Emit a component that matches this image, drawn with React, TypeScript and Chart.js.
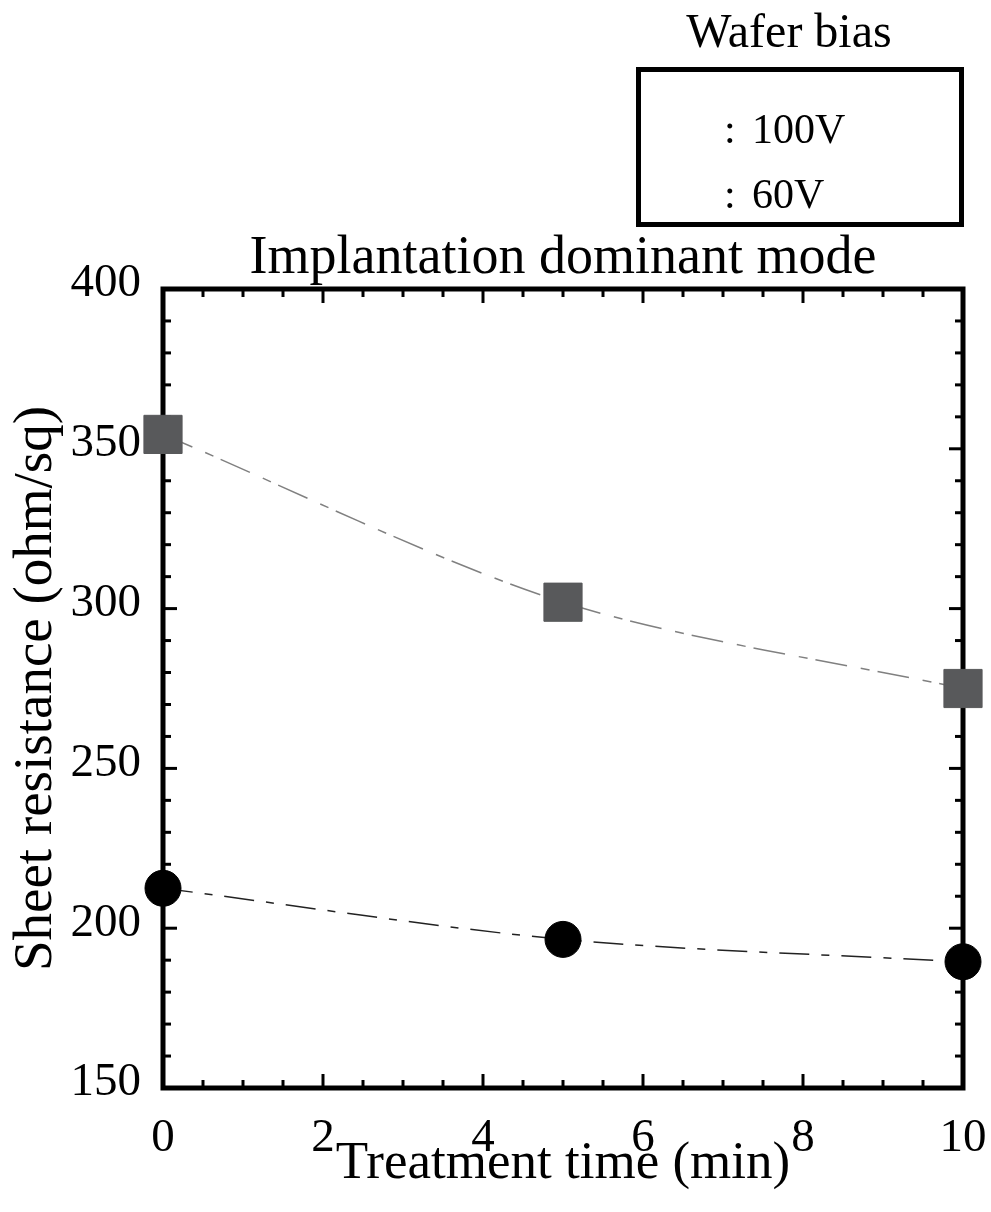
import React, { useEffect, useRef } from "react";
import { Chart, registerables } from "chart.js";

Chart.register(...registerables);

// ---- data ----
const times = [0, 5, 10];
const seriesLabels = ["100V", "60V"];
const circleValues = [212.5, 196.5, 189.5]; // lower series (circles)
const squareValues = [354.5, 302, 275]; // upper series (squares)

const chartTitle = "Implantation dominant mode";
const legendTitle = "Wafer bias";
const xTitle = "Treatment time (min)";
const yTitle = "Sheet resistance (ohm/sq)";

const X_MIN = 0;
const X_MAX = 10;
const X_MAJOR = 2;
const X_MINOR = 0.5;
const Y_MIN = 150;
const Y_MAX = 400;
const Y_MAJOR = 50;
const Y_MINOR = 10;

const SERIF = "'Liberation Serif', 'Times New Roman', serif";

const framePlugin = {
  id: "frameTicks",
  beforeDatasetsDraw(chart: any) {
    const { ctx, chartArea, scales } = chart;
    const { left, right, top, bottom } = chartArea;
    const x = scales.x;
    const y = scales.y;
    ctx.save();
    ctx.strokeStyle = "#000";
    ctx.lineWidth = 3;
    ctx.lineCap = "butt";
    const seg = (x1: number, y1: number, x2: number, y2: number) => {
      ctx.beginPath();
      ctx.moveTo(x1, y1);
      ctx.lineTo(x2, y2);
      ctx.stroke();
    };
    const isMajor = (v: number, step: number, base: number) => {
      const r = (v - base) / step;
      return Math.abs(r - Math.round(r)) < 1e-6;
    };
    const nx = Math.round((X_MAX - X_MIN) / X_MINOR);
    for (let i = 1; i < nx; i++) {
      const v = X_MIN + i * X_MINOR;
      const px = x.getPixelForValue(v);
      const len = isMajor(v, X_MAJOR, X_MIN) ? 14 : 8;
      seg(px, bottom, px, bottom - len);
      seg(px, top, px, top + len);
    }
    const ny = Math.round((Y_MAX - Y_MIN) / Y_MINOR);
    for (let i = 1; i < ny; i++) {
      const v = Y_MIN + i * Y_MINOR;
      const py = y.getPixelForValue(v);
      const len = isMajor(v, Y_MAJOR, Y_MIN) ? 14 : 8;
      seg(left, py, left + len, py);
      seg(right, py, right - len, py);
    }
    ctx.lineWidth = 5;
    ctx.strokeRect(left, top, right - left, bottom - top);
    ctx.restore();
  },
};

const legendPlugin = {
  id: "boxLegend",
  afterDraw(chart: any) {
    const { ctx, chartArea } = chart;
    ctx.save();
    ctx.fillStyle = "#000";
    // chart title centred over the plot area
    ctx.textAlign = "center";
    ctx.textBaseline = "alphabetic";
    ctx.font = `54px ${SERIF}`;
    ctx.fillText(chartTitle, (chartArea.left + chartArea.right) / 2, 273);
    // legend title
    ctx.font = `48px ${SERIF}`;
    ctx.fillText(legendTitle, 789, 47);
    ctx.lineWidth = 5;
    ctx.strokeStyle = "#000";
    ctx.strokeRect(638.5, 69.5, 323, 155);
    ctx.textAlign = "left";
    ctx.font = `42px ${SERIF}`;
    const baselines = [143, 208];
    chart.data.datasets.forEach((ds: any, i: number) => {
      ctx.fillText(":", 724, baselines[i]);
      ctx.fillText(ds.label, 752, baselines[i]);
    });
    ctx.restore();
  },
};

export default function App() {
  const ref = useRef<HTMLCanvasElement | null>(null);
  useEffect(() => {
    if (!ref.current) return;
    const chart = new Chart(ref.current, {
      type: "line",
      data: {
        datasets: [
          {
            label: seriesLabels[0],
            data: times.map((t, i) => ({ x: t, y: circleValues[i] })),
            borderColor: "#222",
            borderWidth: 1.5,
            borderDash: [30, 12, 8, 12],
            tension: 0.3,
            pointStyle: "circle",
            pointRadius: 18,
            pointHoverRadius: 18,
            pointBackgroundColor: "#000",
            pointBorderColor: "#000",
            pointBorderWidth: 1,
            clip: false,
          } as any,
          {
            label: seriesLabels[1],
            data: times.map((t, i) => ({ x: t, y: squareValues[i] })),
            borderColor: "#808080",
            borderWidth: 1.5,
            borderDash: [32, 14, 9, 8],
            tension: 0.3,
            pointStyle: "rect",
            pointRadius: 27,
            pointHoverRadius: 27,
            pointBackgroundColor: "#58595b",
            pointBorderColor: "#58595b",
            pointBorderWidth: 1,
            clip: false,
          } as any,
        ],
      },
      options: {
        animation: false,
        responsive: false,
        events: [],
        layout: { padding: { top: 289, right: 28, bottom: 0, left: 0 } },
        plugins: {
          legend: { display: false },
          tooltip: { enabled: false },
          title: { display: false },
        },
        scales: {
          x: {
            type: "linear",
            min: X_MIN,
            max: X_MAX,
            grid: { display: false, drawTicks: false },
            border: { display: false },
            ticks: {
              stepSize: X_MAJOR,
              color: "#000",
              padding: 22,
              font: { family: SERIF, size: 47 },
              maxRotation: 0,
            },
            title: {
              display: true,
              text: xTitle,
              color: "#000",
              font: { family: SERIF, size: 53 },
              padding: { top: 0, bottom: 16 },
            },
            afterFit(scale: any) {
              scale.height = 124;
              scale.paddingLeft = 0;
              scale.paddingRight = 0;
            },
          },
          y: {
            type: "linear",
            min: Y_MIN,
            max: Y_MAX,
            grid: { display: false, drawTicks: false },
            border: { display: false },
            ticks: {
              stepSize: Y_MAJOR,
              color: "#000",
              padding: 22,
              labelOffset: -5,
              font: { family: SERIF, size: 47 },
            },
            title: {
              display: true,
              text: yTitle,
              color: "#000",
              font: { family: SERIF, size: 55 },
              padding: { top: 4, bottom: 0 },
            },
            afterFit(scale: any) {
              scale.width = 163;
              scale.paddingTop = 0;
              scale.paddingBottom = 0;
            },
          },
        },
      } as any,
      plugins: [framePlugin, legendPlugin],
    });
    return () => chart.destroy();
  }, []);
  return (
    <div style={{ position: "absolute", left: 0, top: 0, width: 991, height: 1212, background: "#fff" }}>
      <canvas ref={ref} width={991} height={1212} style={{ display: "block" }} />
    </div>
  );
}
